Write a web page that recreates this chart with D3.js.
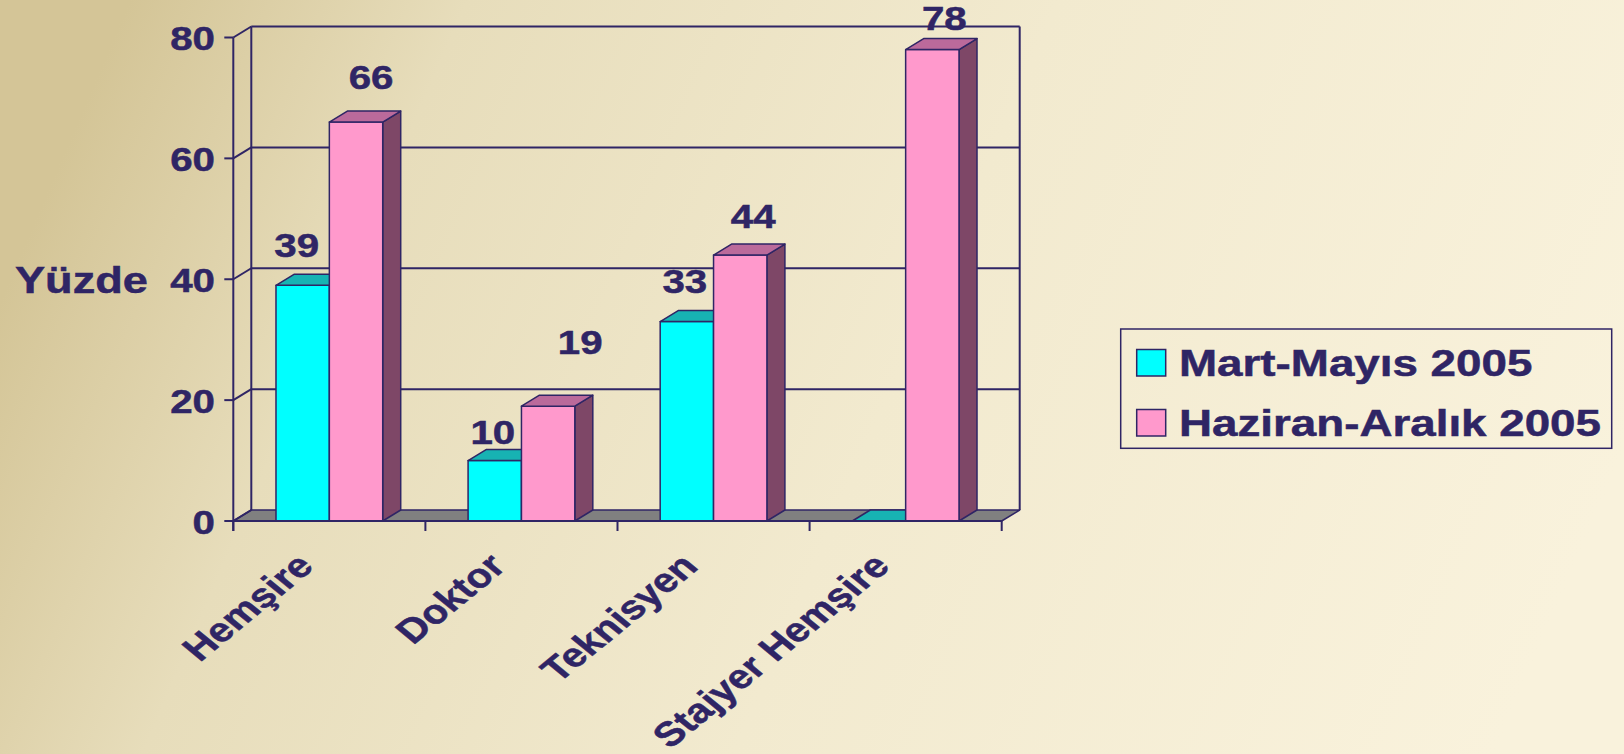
<!DOCTYPE html>
<html>
<head>
<meta charset="utf-8">
<script src="https://cdn.jsdelivr.net/npm/d3@7"></script>
<style>
  html, body { margin: 0; padding: 0; }
  body { width: 1624px; height: 754px; overflow: hidden; }
  svg { display: block; }
  text { font-family: "Liberation Sans", Arial, sans-serif; font-weight: bold; fill: #2f2565; stroke: #2f2565; stroke-width: 0.5px; }
</style>
</head>
<body>
<svg id="chart" width="1624" height="754"></svg>
<script>
// Staff groups and the share (%) in each period
const categories = ["Hemşire", "Doktor", "Teknisyen", "Stajyer Hemşire"];
const seriesNames = ["Mart-Mayıs 2005", "Haziran-Aralık 2005"];
const martMayis = [39, 10, 33, 0];
const haziranAralik = [66, 19, 44, 78];
const yTicks = [0, 20, 40, 60, 80];
const yTitle = "Yüzde";

const series = [martMayis, haziranAralik];

const INK = "#2f2565";
const SX = 1.22;                   // wide-set lettering
const DEPTH = { dx: 18, dy: -11 }; // 3D depth offset for walls and bars

const faces = [
  { front: "#00ffff", top: "#17b3b3", side: "#009999" },
  { front: "#ff99cc", top: "#bb6a9b", side: "#7e4767" }
];

const svg = d3.select("#chart");

// Background: warm tan to cream
const defs = svg.append("defs");
const bg = defs.append("linearGradient").attr("id", "bg")
  .attr("x1", "0").attr("y1", "0.4").attr("x2", "1").attr("y2", "0.6");
bg.append("stop").attr("offset", "0").attr("stop-color", "#d4c597");
bg.append("stop").attr("offset", "0.2").attr("stop-color", "#e7ddbb");
bg.append("stop").attr("offset", "0.55").attr("stop-color", "#f2eacf");
bg.append("stop").attr("offset", "1").attr("stop-color", "#f9f2dc");
svg.append("rect").attr("width", 1624).attr("height", 754).attr("fill", "url(#bg)");

// Scales
const x = d3.scaleBand().domain(categories).range([233.3, 1001.7]).padding(0);
const xs = d3.scaleBand().domain(d3.range(series.length)).range([0, x.bandwidth()])
  .paddingInner(0).paddingOuter(0.8);
const y = d3.scaleLinear().domain([0, 80]).range([521, 37.5]);

const x0 = x.range()[0], x1 = x.range()[1];
const y0 = y(0);

function scaledText(g, px, py, str, opts) {
  const wrap = g.append("g")
    .attr("transform", `translate(${px},${py}) scale(${SX},1)` + (opts.rotate ? ` rotate(${opts.rotate})` : ""));
  return wrap.append("text")
    .attr("text-anchor", opts.anchor || "middle")
    .attr("dy", opts.dy || 0)
    .style("font-size", opts.size + "px")
    .text(str);
}

const plot = svg.append("g");

// Floor
plot.append("path")
  .attr("d", d3.line()([[x0, y0], [x1, y0], [x1 + DEPTH.dx, y0 + DEPTH.dy], [x0 + DEPTH.dx, y0 + DEPTH.dy]]) + "Z")
  .attr("fill", "#808080").attr("stroke", INK).attr("stroke-width", 1.5).attr("stroke-linejoin", "round");

// Back wall gridlines and frame
const wall = plot.append("g").attr("fill", "none").attr("stroke", INK).attr("stroke-width", 2);
yTicks.filter(t => t > 0).forEach(t => {
  wall.append("line")
    .attr("x1", x0 + DEPTH.dx).attr("x2", x1 + DEPTH.dx)
    .attr("y1", y(t) + DEPTH.dy).attr("y2", y(t) + DEPTH.dy);
});
wall.append("line").attr("x1", x0 + DEPTH.dx).attr("x2", x0 + DEPTH.dx)
  .attr("y1", y(80) + DEPTH.dy).attr("y2", y0 + DEPTH.dy);
wall.append("line").attr("x1", x1 + DEPTH.dx).attr("x2", x1 + DEPTH.dx)
  .attr("y1", y(80) + DEPTH.dy).attr("y2", y0 + DEPTH.dy);
// Side wall connectors at each tick
yTicks.forEach(t => {
  wall.append("line")
    .attr("x1", x0).attr("y1", y(t))
    .attr("x2", x0 + DEPTH.dx).attr("y2", y(t) + DEPTH.dy);
});

// 3D bars
const bars = plot.append("g").attr("stroke", INK).attr("stroke-width", 1.5).attr("stroke-linejoin", "round");
categories.forEach((cat, ci) => {
  series.forEach((vals, si) => {
    const v = vals[ci];
    const bx = x(cat) + xs(si), bw = xs.bandwidth();
    const by = y(v);
    const f = faces[si];
    const g = bars.append("g");
    if (v > 0) {
      g.append("path")
        .attr("d", d3.line()([[bx + bw, by], [bx + bw + DEPTH.dx, by + DEPTH.dy], [bx + bw + DEPTH.dx, y0 + DEPTH.dy], [bx + bw, y0]]) + "Z")
        .attr("fill", f.side);
      g.append("rect").attr("x", bx).attr("y", by).attr("width", bw).attr("height", y0 - by).attr("fill", f.front);
    }
    g.append("path")
      .attr("d", d3.line()([[bx, by], [bx + DEPTH.dx, by + DEPTH.dy], [bx + bw + DEPTH.dx, by + DEPTH.dy], [bx + bw, by]]) + "Z")
      .attr("fill", f.top);
  });
});

// Y axis (front)
const axis = svg.append("g").attr("stroke", INK).attr("stroke-width", 2).attr("fill", "none");
axis.append("line").attr("x1", x0).attr("x2", x0).attr("y1", y(80)).attr("y2", y0 + 10);
yTicks.forEach(t => {
  axis.append("line").attr("x1", x0 - 9).attr("x2", x0).attr("y1", y(t)).attr("y2", y(t));
});
// X axis (front)
axis.append("line").attr("x1", x0).attr("x2", x1).attr("y1", y0).attr("y2", y0);
const bounds = categories.map(c => x(c)).concat([x1]);
bounds.forEach(b => {
  axis.append("line").attr("x1", b).attr("x2", b).attr("y1", y0).attr("y2", y0 + 10);
});

const labels = svg.append("g");

// Tick labels
yTicks.forEach(t => {
  scaledText(labels, 215, y(t) + 1, String(t), { anchor: "end", size: 33, dy: "0.36em" });
});
// Axis title
scaledText(labels, 15, 280, yTitle, { anchor: "start", size: 37, dy: "0.36em" });

// Category labels, slanted
categories.forEach(cat => {
  const cx = x(cat) + x.bandwidth() / 2;
  scaledText(labels, cx - 14, 568, cat, { anchor: "end", size: 34, rotate: -45 });
});

// Value labels above bars (hand-placed nudges per label)
const nudge = [
  [[-6, -40], [15, -45]],
  [[-2, -28], [32, -64]],
  [[-2, -40], [13, -39]],
  [[0, -30], [12, -31]]
];
categories.forEach((cat, ci) => {
  series.forEach((vals, si) => {
    const v = vals[ci];
    if (v === 0) return;
    const cx = x(cat) + xs(si) + xs.bandwidth() / 2;
    const [ndx, ndy] = nudge[ci][si];
    scaledText(labels, cx + ndx, y(v) + ndy, String(v), { anchor: "middle", size: 33, dy: "0.36em" });
  });
});

// Legend
const legend = svg.append("g");
legend.append("rect").attr("x", 1120.7).attr("y", 329).attr("width", 491).attr("height", 119.3)
  .attr("fill", "none").attr("stroke", INK).attr("stroke-width", 1.5);
seriesNames.forEach((name, i) => {
  const ry = 349.5 + i * 60;
  legend.append("rect").attr("x", 1136.7).attr("y", ry).attr("width", 29).attr("height", 26.5)
    .attr("fill", faces[i].front).attr("stroke", INK).attr("stroke-width", 1.5);
  scaledText(legend, 1179, ry + 26, name, { anchor: "start", size: 37.5 });
});
</script>
</body>
</html>
